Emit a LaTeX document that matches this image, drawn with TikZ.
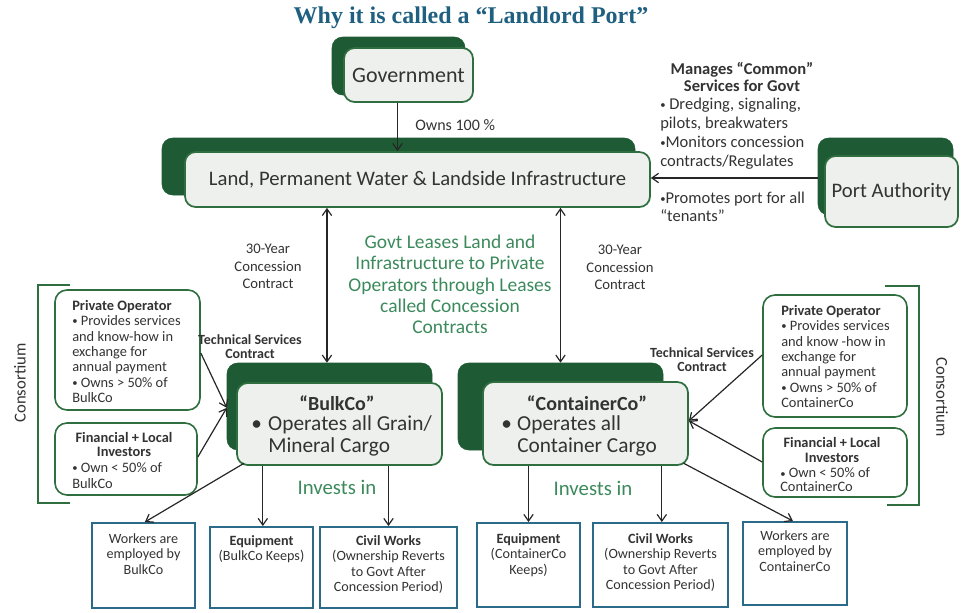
\documentclass[tikz,border=0pt]{standalone}
\usepackage{fontspec}
\setmainfont{Carlito}
\newfontfamily\titlefont{Liberation Serif}
\usetikzlibrary{arrows.meta}
\definecolor{shadegreen}{HTML}{1E5B34}
\definecolor{edgegreen}{HTML}{2F6F3F}
\definecolor{panelfill}{HTML}{EDF0EC}
\definecolor{edgeblue}{HTML}{2C6A8A}
\definecolor{titleblue}{HTML}{1F5F80}
\definecolor{notegreen}{HTML}{3C8A5C}
\definecolor{bodytext}{HTML}{333333}
\newcommand{\fs}[2]{\fontsize{#1}{#2}\selectfont}
\newcommand{\bul}{\raisebox{0.12ex}{\fontsize{8}{8}\selectfont •}}
\tikzset{
  backplate/.style={fill=shadegreen, draw=shadegreen, rounded corners=8pt, inner sep=0pt},
  frontplate/.style={fill=panelfill, draw=edgegreen, line width=1.3pt, rounded corners=8pt, inner sep=0pt, text=bodytext},
  memberbox/.style={fill=white, draw=edgegreen, line width=1.2pt, rounded corners=9pt, inner sep=0pt},
  itembox/.style={fill=white, draw=edgeblue, line width=1.4pt, inner sep=0pt},
  txt/.style={text=bodytext, inner sep=0pt},
  membertxt/.style={txt, align=left, anchor=west, font=\fs{10.8}{11.6}},
  itemtxt/.style={txt, align=center, anchor=north, font=\fs{10.6}{11.6}},
  conn/.style={draw=black!85, line width=0.9pt, -{Straight Barb[length=5pt,width=7pt]}},
  bothconn/.style={draw=black!85, line width=0.9pt, {Straight Barb[length=5pt,width=7pt]}-{Straight Barb[length=5pt,width=7pt]}},
  bracket/.style={draw=edgegreen, line width=0.9pt}
}
\begin{document}
\begin{tikzpicture}[x=0.75pt,y=-0.75pt]
\useasboundingbox (0,0) rectangle (961,612);

% title
\node[text=titleblue, inner sep=0pt] (title) at (471,18) {\titlefont\bfseries\fs{18}{20}Why it is called a “Landlord Port”};

% Government
\node[backplate, minimum width=99.75pt, minimum height=43.5pt] (govsh) at (398.5,66) {};
\node[frontplate, minimum width=96.75pt, minimum height=40.5pt] (gov) at (408.5,75) {\fs{16.5}{18}Government};

% Land & infrastructure
\node[backplate, minimum width=354.75pt, minimum height=42.75pt] (landsh) at (398.5,166.5) {};
\node[frontplate, minimum width=348.75pt, minimum height=41.25pt] (land) at (417.5,179.5) {\fs{15.5}{17}Land, Permanent Water \& Landside Infrastructure};

% Port Authority
\node[backplate, minimum width=101.25pt, minimum height=57.75pt] (pash) at (885.5,176.5) {};
\node[frontplate, minimum width=99.75pt, minimum height=53.25pt] (pa) at (891.5,191.5) {\fs{15.5}{17}Port Authority};

% BulkCo
\node[backplate, minimum width=153.75pt, minimum height=65.25pt] (bulksh) at (329.5,406.5) {};
\node[frontplate, minimum width=153.75pt, minimum height=61.5pt] (bulk) at (339.5,424) {};
\node[txt, align=left, anchor=west, font=\fs{16}{16.5}] (bulktxt) at (251,436) {\makebox[12.75pt][l]{•}Operates all Grain/\\\hspace*{12.75pt}Mineral Cargo};
\node[txt, font=\bfseries\fs{15}{16}] (bulkname) at (337,403) {“BulkCo”};

% ContainerCo
\node[backplate, minimum width=153.75pt, minimum height=65.25pt] (contsh) at (560.5,406.5) {};
\node[frontplate, minimum width=153.75pt, minimum height=62.25pt] (cont) at (585.5,423.5) {};
\node[txt, align=left, anchor=west, font=\fs{16}{16.5}] (conttxt) at (501,436) {\makebox[12pt][l]{•}Operates all\\\hspace*{12pt}Container Cargo};
\node[txt, font=\bfseries\fs{15}{16}] (contname) at (587,403) {“ContainerCo”};

% consortium members, left
\node[memberbox, minimum width=108.75pt, minimum height=90pt] (lpo) at (127.5,350) {};
\node[membertxt] (lpotxt) at (72,351.5) {\textbf{Private Operator}\\\bul{} Provides services\\and know-how in\\exchange for\\annual payment\\\bul{} Owns > 50\% of\\BulkCo};
\node[memberbox, minimum width=106.5pt, minimum height=54pt] (lfin) at (126,459) {};
\node[txt, align=center, font=\bfseries\fs{10.8}{11.2}] (lfinhead) at (124,444.5) {Financial + Local\\Investors};
\node[membertxt] (lfintxt) at (72,475.5) {\bul{} Own < 50\% of\\BulkCo};

% consortium members, right
\node[memberbox, minimum width=108pt, minimum height=91.5pt] (rpo) at (835,356) {};
\node[membertxt] (rpotxt) at (781,356.5) {\textbf{Private Operator}\\\bul{} Provides services\\and know -how in\\exchange for\\annual payment\\\bul{} Owns > 50\% of\\ContainerCo};
\node[memberbox, minimum width=108pt, minimum height=51.75pt] (rfin) at (835,462.5) {};
\node[txt, align=center, font=\bfseries\fs{10.8}{10.8}] (rfinhead) at (832,450) {Financial + Local\\Investors};
\node[membertxt, font=\fs{10.8}{10.5}] (rfintxt) at (780,480) {\bul{} Own < 50\% of\\ContainerCo};

% consortium brackets
\draw[bracket] (70,285) -- (38,285) -- (38,503) -- (70,503);
\draw[bracket] (885,286) -- (919,286) -- (919,505) -- (887,505);
\node[txt, rotate=90, font=\fs{12.5}{14}] (lcons) at (20,383) {Consortium};
\node[txt, rotate=-90, font=\fs{12.5}{14}] (rcons) at (942,397) {Consortium};

% items invested in
\node[itembox, minimum width=77.25pt, minimum height=63.75pt] (lwork) at (143.5,565.5) {};
\node[itembox, minimum width=77.25pt, minimum height=60.75pt] (lequip) at (261.5,567.5) {};
\node[itembox, minimum width=102.75pt, minimum height=60.75pt] (lcivil) at (388.5,567.5) {};
\node[itembox, minimum width=77.25pt, minimum height=63pt] (requip) at (528.5,565) {};
\node[itembox, minimum width=101.25pt, minimum height=63pt] (rcivil) at (660.5,565) {};
\node[itembox, minimum width=78pt, minimum height=62.25pt] (rwork) at (795,563.5) {};

\node[itemtxt] (lworktxt) at (143.5,533) {Workers are\\employed by\\BulkCo};
\node[itemtxt] (lequiptxt) at (261.5,535) {\textbf{Equipment}\\(BulkCo Keeps)};
\node[itemtxt] (lciviltxt) at (388.5,535) {\textbf{Civil Works}\\(Ownership Reverts\\to Govt After\\Concession Period)};
\node[itemtxt] (requiptxt) at (528.5,533) {\textbf{Equipment}\\(ContainerCo\\Keeps)};
\node[itemtxt] (rciviltxt) at (660.5,533) {\textbf{Civil Works}\\(Ownership Reverts\\to Govt After\\Concession Period)};
\node[itemtxt] (rworktxt) at (795,530) {Workers are\\employed by\\ContainerCo};

% Port Authority notes
\node[txt, align=center, font=\bfseries\fs{12.4}{12.8}] (pahead) at (742,77) {Manages “Common”\\Services for Govt};
\node[txt, align=left, anchor=west, font=\fs{12.4}{14.25}] (panotes) at (660,133.5) {\bul{} Dredging, signaling,\\pilots, breakwaters\\\bul{}Monitors concession\\contracts/Regulates};
\node[txt, align=left, anchor=west, font=\fs{12.4}{13.5}] (papromo) at (660,207) {\bul{}Promotes port for all\\“tenants”};

% concession labels
\node[txt, align=center, font=\fs{11}{13.2}] (lconc) at (268,266.5) {30-Year\\Concession\\Contract};
\node[txt, align=center, font=\fs{11}{13.2}] (rconc) at (620,267.5) {30-Year\\Concession\\Contract};
\node[text=notegreen, inner sep=0pt, align=center, font=\fs{14.6}{16}] (lease) at (450,284.5) {Govt Leases Land and\\Infrastructure to Private\\Operators through Leases\\called Concession\\Contracts};
\node[txt, anchor=west, font=\fs{12}{13}] (owns) at (415,125) {Owns 100 \%};
\node[txt, align=center, font=\bfseries\fs{10.5}{10.5}] (ltech) at (250,347) {Technical Services\\Contract};
\node[txt, align=center, font=\bfseries\fs{10.5}{10.5}] (rtech) at (702,359.5) {Technical Services\\Contract};
\node[text=notegreen, inner sep=0pt, font=\fs{15.6}{16}] (linv) at (337,487) {Invests in};
\node[text=notegreen, inner sep=0pt, font=\fs{15.6}{16}] (rinv) at (593,488) {Invests in};

% connectors
\draw[conn] ([xshift=-8.25pt]gov.south) -- ([xshift=-8.25pt]gov.south |- land.north);
\draw[conn] (pash.west |- 0,178) -- (land.east |- 0,178);
\draw[bothconn] ([xshift=-1.9pt]bulksh.north |- land.south) -- ([xshift=-1.9pt]bulksh.north);
\draw[bothconn] (contsh.north |- land.south) -- (contsh.north);
\draw[conn] (lpo.east |- 0,353) -- ([yshift=-1pt]bulksh.west);
\draw[conn] (lfin.east |- 0,457) -- ([yshift=-1pt]bulksh.west);
\draw[conn] (rpo.west |- 0,355) -- ([yshift=2pt]cont.east);
\draw[conn] (rfin.west |- 0,462) -- ([yshift=2pt]cont.east);
\draw[conn] ([xshift=1pt]lequip.north |- bulk.south) -- ([xshift=1pt]lequip.north);
\draw[conn] (lcivil.north |- bulk.south) -- (lcivil.north);
\draw[conn] ([xshift=6pt,yshift=2pt]bulk.south west) -- ([xshift=1pt]lwork.north);
\draw[conn] (requip.north |- cont.south) -- (requip.north);
\draw[conn] ([xshift=1pt]rcivil.north |- cont.south) -- ([xshift=1pt]rcivil.north);
\draw[conn] ([xshift=-4pt,yshift=2pt]cont.south east) -- ([xshift=-1.5pt]rwork.north);
\end{tikzpicture}
\end{document}
